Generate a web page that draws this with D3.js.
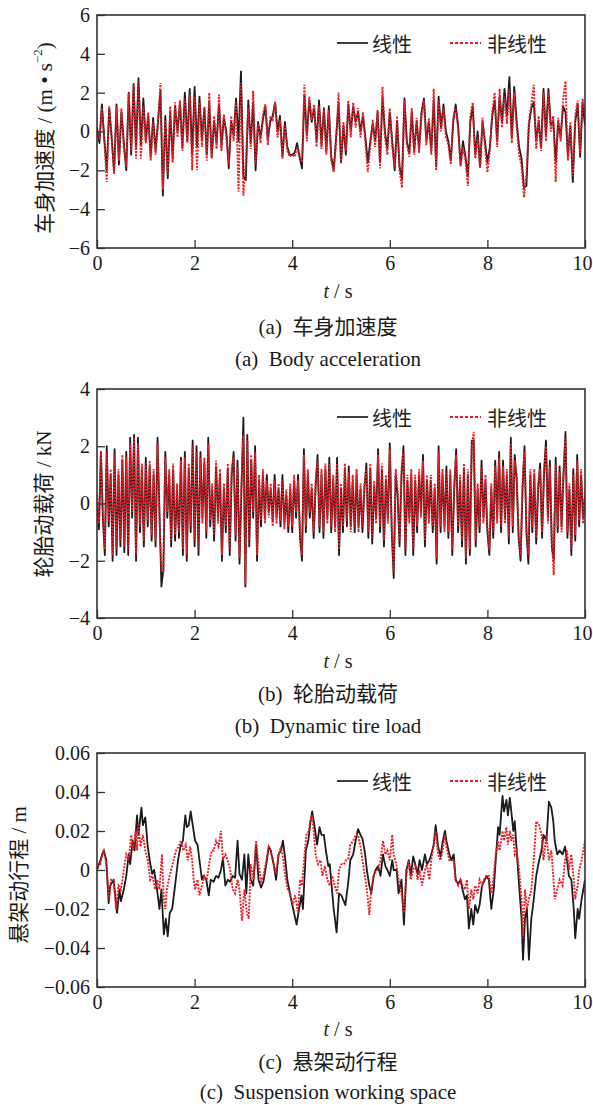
<!DOCTYPE html>
<html><head><meta charset="utf-8">
<script src="https://cdn.jsdelivr.net/npm/d3@7"></script>
<style>body{margin:0;background:#fff}</style></head>
<body><svg id="fig" width="593" height="1105"></svg>
<script>
// ---------- DATA ----------
const xTicks = [0, 2, 4, 6, 8, 10];
const seriesNames = ["线性", "非线性"];

// (a) body acceleration, m/s^2, sampled every 0.05 s from 0 to 10 s
const accLinear = [
 0.2,-0.6,1.4,-0.4,-2.0,1.2,-0.3,-2.1,1.4,-1.7,
 1.0,-0.6,-2.0,2.0,-1.2,2.4,-0.8,2.75,-0.7,1.7,
 -0.5,0.8,-1.3,0.7,-1.0,0.5,2.1,-3.3,0.8,-2.4,
 1.0,-1.4,1.3,0.0,1.5,-0.8,2.0,-0.5,2.2,-1.2,
 2.3,-0.8,1.8,-0.4,1.2,-1.2,1.5,-1.3,0.5,-0.6,
 1.4,-0.8,0.7,0.0,-1.9,0.5,-0.2,1.7,-0.5,3.1,
 -2.3,-2.5,1.6,-0.6,1.5,-2.0,0.5,-0.3,0.6,1.3,
 -0.4,0.5,0.8,1.5,0.0,0.8,-1.3,0.5,-0.8,-1.2,
 -1.2,-1.1,-0.6,-1.3,-1.9,1.9,-0.2,1.6,0.5,1.2,
 -0.5,1.6,-0.7,1.2,-1.0,1.3,-1.3,-2.0,-0.3,1.5,
 -1.6,0.3,-1.2,1.4,0.0,1.3,0.5,1.0,0.0,0.8,
 -0.3,-1.6,-0.5,0.4,-0.5,1.0,-1.6,1.8,0.0,-0.9,
 1.0,-0.5,-2.0,0.5,-1.8,-2.5,1.7,-0.5,-1.1,1.0,
 -1.0,0.5,-0.9,1.0,1.7,-0.5,0.5,-1.0,1.6,-1.8,
 1.8,0.2,1.4,0.0,-0.5,-1.5,0.5,1.4,0.3,-1.7,
 -0.5,-1.3,-2.3,0.5,1.3,-1.2,0.0,-1.8,0.5,-0.5,
 -1.6,-0.8,0.8,1.6,-0.5,1.8,0.5,2.2,0.8,2.8,
 -0.3,2.3,0.5,-0.8,-1.4,-2.9,-2.8,0.3,1.2,1.5,
 -0.5,0.5,-0.8,2.2,-0.2,2.2,0.3,0.5,-1.6,0.5,
 -0.3,1.3,1.0,-1.3,0.3,-2.6,0.5,1.4,-1.3,1.5,
 0.3];
const accNonlinear = [
 0.0,-0.4,1.2,-0.5,-2.6,1.3,-0.3,-2.2,1.3,-1.5,
 1.2,-0.8,-1.8,2.0,-1.0,2.5,-1.4,2.6,-1.4,1.3,
 -0.6,1.0,-1.5,0.5,-1.2,0.4,2.5,-3.0,0.6,-2.2,
 1.3,-1.6,1.5,-0.3,1.6,-1.0,1.7,-0.6,1.9,-2.0,
 1.8,-2.0,1.5,-0.8,1.3,-1.5,2.0,-1.4,0.8,-0.9,
 1.9,-1.0,0.9,-0.3,-1.7,0.8,-0.5,1.5,-3.1,2.5,
 -3.3,-1.5,1.2,-0.9,2.1,-1.7,0.4,-0.6,0.9,1.4,
 -0.7,0.8,0.6,1.5,-0.3,0.6,-1.4,0.3,-1.0,-1.3,
 -1.2,-1.3,-0.8,-1.2,-1.6,2.4,-0.5,1.8,0.6,1.4,
 -0.8,1.3,-0.9,1.1,-1.2,1.1,-1.5,-2.1,-0.6,2.0,
 -1.6,0.5,-1.0,1.6,-0.3,1.5,0.2,1.2,-0.3,1.0,
 -0.6,-2.1,-0.8,0.6,-0.8,1.1,-1.9,2.3,-0.3,-1.2,
 1.2,-0.8,-1.8,0.8,-2.0,-2.9,1.6,-0.7,-1.3,1.2,
 -1.2,0.7,-1.1,0.8,1.6,-0.7,0.7,-1.2,2.2,-2.0,
 1.6,0.0,1.2,-0.3,-0.7,-1.7,0.7,1.2,0.1,-1.8,
 -0.8,-1.5,-2.8,0.8,1.5,-1.4,-0.3,-1.9,0.7,-0.8,
 -2.1,-1.0,1.0,2.0,-0.8,2.2,0.2,1.8,0.4,2.2,
 -0.6,2.0,0.2,-1.2,-1.8,-3.4,-2.2,0.5,1.4,2.4,
 -0.9,0.8,-1.0,2.0,-0.5,2.0,0.0,0.8,-2.6,0.7,
 -0.5,1.6,2.6,-1.5,0.5,-2.3,0.8,1.6,-1.1,1.7,
 0.8];
const accTicks = [-6, -4, -2, 0, 2, 4, 6];

// (b) dynamic tire load, kN, sampled every 0.04 s from 0 to 10 s
const tireLinear = [
 0.0,-0.9,1.8,-0.5,-1.8,2.0,-0.8,1.0,-2.0,1.9,
 -1.8,1.0,-1.5,1.5,-1.7,1.8,-1.8,2.3,-0.5,2.4,
 -2.0,2.3,-1.0,1.2,-1.5,1.6,-0.8,1.3,-1.3,1.0,
 -1.5,2.3,-0.3,-2.9,-2.3,1.8,-0.5,1.0,-1.5,1.2,
 -1.3,0.5,-1.2,1.6,-1.8,1.8,-2.0,1.2,-1.0,2.2,
 -1.5,2.0,-1.8,1.8,-0.5,1.4,-1.2,2.3,-0.8,0.5,
 -1.3,1.3,-0.5,1.0,-2.0,0.5,-1.0,1.2,-1.8,1.0,
 1.8,-1.3,1.5,-2.1,0.5,3.0,-2.9,2.4,-1.5,1.5,
 -0.5,2.0,-2.0,0.8,-0.8,1.0,-0.5,1.0,-0.3,0.5,
 -0.6,1.0,-0.5,0.5,-0.8,1.0,-0.7,0.3,-1.0,0.5,
 -1.0,0.8,-0.5,1.0,-1.2,-2.0,1.9,-1.0,1.0,-0.5,
 0.5,-1.2,0.6,1.7,-1.0,1.0,-1.2,1.2,-0.5,1.6,
 -1.0,0.8,-0.8,1.6,-1.8,0.5,-1.0,1.2,-0.8,1.3,
 -0.8,0.8,-1.0,1.0,-0.8,0.5,-1.0,0.5,1.4,-1.2,
 1.2,-1.4,0.6,-0.5,1.9,-1.0,1.2,-1.5,0.8,-0.5,
 2.1,-1.0,-2.6,1.0,0.3,-1.5,1.0,2.0,-1.8,0.8,
 -0.5,1.0,-1.8,0.8,-1.0,1.0,-0.3,1.7,-1.5,0.8,
 -0.5,0.8,-1.0,0.5,-2.1,2.0,-1.0,1.0,-0.8,1.3,
 -1.2,1.0,-1.8,0.5,1.9,-1.0,0.8,-1.5,1.2,-2.1,
 1.0,-1.8,2.2,2.2,-1.5,0.5,-1.0,1.5,-0.5,0.8,
 -1.0,-1.8,0.5,-1.2,1.5,-0.5,1.8,-1.0,1.5,-0.5,
 1.0,-1.4,2.3,-1.0,1.7,0.8,-1.2,-2.0,0.5,2.0,
 -1.0,-2.1,1.0,-1.0,1.0,-1.4,0.5,1.4,-1.2,1.0,
 2.2,-0.5,1.5,-1.5,-2.0,1.6,-1.0,1.3,-0.8,1.0,
 2.5,-1.2,0.5,-1.8,1.2,-1.3,1.7,-0.8,1.0,-0.5,
 0.3];
const tireNonlinear = [
 0.3,-0.7,1.8,-0.3,-1.6,1.8,-0.6,1.2,-1.8,1.7,
 -1.6,1.2,-1.3,1.7,-1.5,1.6,-1.6,2.1,-0.3,2.3,
 -1.8,2.1,-0.8,1.4,-1.3,1.4,-0.6,1.5,-1.1,1.2,
 -1.3,2.1,-0.5,-2.3,-2.4,1.6,-0.3,1.2,-1.3,1.4,
 -1.1,0.7,-1.0,1.5,-1.6,1.6,-1.8,1.4,-0.8,2.0,
 -1.3,1.8,-1.6,1.6,-0.7,1.6,-1.0,2.1,-0.6,0.7,
 -1.1,1.5,-0.7,1.2,-1.8,0.7,-0.8,1.4,-1.6,1.2,
 1.6,-1.1,1.3,-1.9,0.7,2.4,-2.8,2.2,-1.3,1.7,
 -0.3,1.8,-1.8,1.0,-0.6,1.2,-0.7,0.8,-0.5,0.7,
 -0.8,0.8,-0.7,0.7,-0.6,0.8,-0.9,0.5,-0.8,0.7,
 -0.8,1.0,-0.3,0.8,-1.0,-1.8,1.7,-0.8,1.2,-0.3,
 0.7,-1.0,0.8,1.5,-0.8,1.2,-1.0,1.4,-0.7,1.4,
 -0.8,1.0,-1.0,1.4,-1.6,0.7,-0.8,1.4,-0.6,1.1,
 -1.0,1.0,-0.8,1.2,-1.0,0.7,-0.8,0.7,1.2,-1.0,
 1.4,-1.2,0.8,-0.7,1.7,-0.8,1.4,-1.3,1.0,-0.7,
 1.9,-0.8,-2.4,1.2,0.5,-1.3,1.2,1.8,-1.6,1.0,
 -0.7,1.2,-1.6,1.0,-0.8,1.2,-0.5,1.5,-1.3,1.0,
 -0.7,1.0,-0.8,0.7,-1.9,1.8,-0.8,1.2,-1.0,1.1,
 -1.0,1.2,-1.6,0.7,1.7,-0.8,1.0,-1.3,1.4,-1.9,
 1.2,-1.6,2.0,2.5,-1.3,0.7,-0.8,1.3,-0.7,1.0,
 -0.8,-1.6,0.7,-1.0,1.3,-0.7,1.6,-0.8,1.3,-0.7,
 1.2,-1.2,2.1,-0.8,1.5,1.0,-1.0,-1.8,0.7,1.8,
 -0.8,-1.8,1.2,-0.8,1.2,-1.2,0.7,1.2,-1.0,1.2,
 2.0,-0.7,1.3,-1.3,-2.5,1.4,-0.8,1.1,-1.0,1.2,
 2.3,-1.0,0.7,-1.6,1.0,-1.1,1.5,-0.6,1.2,-0.7,
 0.5];
const tireTicks = [-4, -2, 0, 2, 4];

// (c) suspension working space, [time s, travel m]
const suspLinear = [[0,0],[0.07,0.005],[0.14,0.010],[0.19,0.005],[0.24,-0.017],[0.27,-0.008],[0.34,-0.005],[0.41,-0.022],[0.46,-0.010],[0.49,-0.016],[0.55,-0.010],[0.60,-0.003],[0.65,0.008],[0.68,0.003],[0.73,0.015],[0.77,0.010],[0.82,0.028],[0.85,0.018],[0.91,0.032],[0.94,0.023],[0.99,0.027],[1.04,0.012],[1.08,0.005],[1.13,-0.002],[1.17,0],[1.23,-0.010],[1.28,-0.020],[1.32,-0.010],[1.37,-0.033],[1.41,-0.025],[1.45,-0.034],[1.49,-0.022],[1.54,-0.020],[1.60,-0.008],[1.66,0.005],[1.71,0.012],[1.76,0.015],[1.81,0.028],[1.84,0.022],[1.88,0.023],[1.92,0.030],[1.98,0.020],[2.01,0.015],[2.06,0.013],[2.10,0.005],[2.15,-0.005],[2.18,-0.003],[2.24,-0.005],[2.29,-0.013],[2.33,-0.005],[2.39,-0.006],[2.44,-0.003],[2.49,-0.004],[2.54,0],[2.58,0.006],[2.63,-0.008],[2.68,-0.005],[2.73,-0.006],[2.78,-0.003],[2.83,-0.004],[2.88,0.015],[2.92,-0.002],[2.97,-0.005],[3.02,0.008],[3.06,-0.012],[3.10,0.008],[3.15,-0.005],[3.20,-0.008],[3.26,0.013],[3.31,-0.005],[3.36,-0.009],[3.41,-0.006],[3.47,0.003],[3.52,0.012],[3.56,0.010],[3.62,0.003],[3.67,-0.005],[3.72,0.008],[3.77,0.010],[3.81,0.015],[3.86,0.005],[3.90,-0.005],[3.96,-0.013],[4.02,-0.020],[4.09,-0.028],[4.14,-0.020],[4.19,-0.013],[4.22,-0.020],[4.28,0.010],[4.33,0.015],[4.37,0.024],[4.41,0.030],[4.46,0.022],[4.51,0.013],[4.56,0.022],[4.60,0.018],[4.65,0.018],[4.69,0.010],[4.74,0.002],[4.77,0.003],[4.80,-0.006],[4.85,-0.020],[4.91,-0.032],[4.96,-0.012],[5.01,-0.013],[5.04,-0.015],[5.09,-0.018],[5.15,-0.006],[5.19,0.005],[5.25,0.008],[5.30,0.015],[5.35,0.021],[5.40,0.018],[5.44,0.016],[5.49,0.009],[5.53,0],[5.58,-0.008],[5.62,-0.012],[5.67,-0.003],[5.71,0],[5.76,0.002],[5.81,-0.003],[5.86,0.008],[5.91,0.002],[5.95,0],[6.00,-0.003],[6.05,0.005],[6.08,0],[6.14,0],[6.18,-0.012],[6.24,-0.005],[6.29,-0.028],[6.34,0],[6.39,0.005],[6.43,-0.003],[6.48,0.007],[6.52,0.003],[6.57,-0.002],[6.61,0.005],[6.66,0],[6.72,0.008],[6.76,0.003],[6.81,0.005],[6.85,0.008],[6.90,0.013],[6.94,0.023],[6.99,0.012],[7.04,0.007],[7.08,0.014],[7.13,0.020],[7.16,0.015],[7.22,0.008],[7.26,0.005],[7.31,0.008],[7.35,-0.005],[7.40,-0.007],[7.45,-0.005],[7.49,-0.010],[7.54,-0.015],[7.58,-0.013],[7.62,-0.030],[7.67,-0.020],[7.71,-0.028],[7.75,-0.018],[7.80,-0.022],[7.84,-0.018],[7.89,-0.008],[7.93,-0.006],[7.98,-0.003],[8.03,-0.005],[8.08,-0.020],[8.13,-0.010],[8.17,0.005],[8.22,0.022],[8.25,0.018],[8.31,0.038],[8.34,0.030],[8.39,0.036],[8.42,0.028],[8.46,0.037],[8.49,0.030],[8.53,0.020],[8.56,0.025],[8.60,0.010],[8.65,-0.008],[8.70,-0.025],[8.73,-0.046],[8.77,-0.025],[8.81,-0.020],[8.85,-0.046],[8.90,-0.025],[8.95,-0.015],[9.00,-0.003],[9.06,0.005],[9.11,0.010],[9.15,0.018],[9.21,0.015],[9.26,0.035],[9.31,0.032],[9.35,0.025],[9.38,0.015],[9.43,0.008],[9.48,0.010],[9.54,0.008],[9.59,0.012],[9.63,0.005],[9.67,-0.003],[9.72,-0.005],[9.77,-0.020],[9.80,-0.035],[9.85,-0.020],[9.88,-0.025],[9.93,-0.015],[10,-0.005]];
const suspNonlinear = [[0,0.002],[0.07,0.003],[0.10,0.008],[0.14,0.010],[0.19,0.003],[0.24,-0.015],[0.29,-0.005],[0.34,-0.005],[0.39,-0.020],[0.44,-0.008],[0.49,-0.010],[0.55,0],[0.60,0.008],[0.65,0.005],[0.70,0.018],[0.74,0.010],[0.79,0.020],[0.82,0.010],[0.85,0.024],[0.89,0.012],[0.94,0.018],[0.99,0.010],[1.04,0.005],[1.09,-0.005],[1.14,-0.003],[1.19,-0.010],[1.24,-0.005],[1.28,-0.010],[1.33,0.008],[1.37,-0.015],[1.40,-0.020],[1.43,-0.010],[1.47,-0.005],[1.52,0],[1.57,0.005],[1.62,0.010],[1.67,0.012],[1.72,0.015],[1.77,0.010],[1.82,0.013],[1.86,0.005],[1.91,0.012],[1.95,0.005],[1.98,-0.005],[2.01,-0.010],[2.06,-0.005],[2.10,-0.013],[2.15,-0.008],[2.20,-0.003],[2.25,-0.005],[2.31,0.005],[2.35,0.010],[2.39,0.010],[2.44,0.015],[2.49,0.012],[2.54,0.020],[2.58,0.005],[2.63,0.008],[2.68,0.005],[2.73,0],[2.78,-0.010],[2.83,-0.012],[2.88,-0.005],[2.92,-0.010],[2.97,-0.026],[3.02,-0.010],[3.07,-0.022],[3.11,-0.025],[3.15,0.003],[3.21,-0.005],[3.26,0.015],[3.31,0.003],[3.36,-0.006],[3.41,-0.003],[3.47,0.005],[3.52,0.012],[3.56,0.010],[3.62,0.003],[3.67,-0.002],[3.72,0.008],[3.77,0.012],[3.82,0.005],[3.87,-0.005],[3.91,-0.010],[3.96,-0.012],[4.01,-0.018],[4.06,-0.013],[4.12,-0.022],[4.16,-0.005],[4.20,-0.008],[4.26,0.010],[4.29,0.018],[4.34,0.020],[4.37,0.025],[4.41,0.028],[4.44,0.020],[4.48,0.008],[4.53,0.003],[4.58,0.005],[4.62,-0.003],[4.67,0.002],[4.72,-0.005],[4.77,-0.008],[4.82,-0.003],[4.87,-0.008],[4.92,-0.012],[4.96,0],[5.01,0.003],[5.06,0.003],[5.10,0.005],[5.15,0.006],[5.19,0.013],[5.25,0.015],[5.30,0.018],[5.35,0.018],[5.40,0.012],[5.44,0.005],[5.49,-0.003],[5.53,-0.010],[5.58,-0.023],[5.62,-0.010],[5.67,-0.003],[5.71,0],[5.76,0],[5.81,0.005],[5.86,0.015],[5.91,0.008],[5.95,0.010],[6.00,0.005],[6.05,0.018],[6.08,0.008],[6.14,0.002],[6.18,-0.005],[6.24,-0.012],[6.29,-0.022],[6.34,-0.003],[6.39,0.005],[6.43,-0.005],[6.48,0],[6.52,0.003],[6.57,-0.005],[6.61,0],[6.66,-0.008],[6.72,0],[6.76,0.003],[6.81,-0.005],[6.85,0.005],[6.90,0.013],[6.94,0.020],[6.99,0.008],[7.04,0.005],[7.08,0.010],[7.13,0.018],[7.16,0.012],[7.22,0.005],[7.26,0.005],[7.31,0.005],[7.35,-0.005],[7.40,-0.008],[7.45,-0.005],[7.49,-0.008],[7.54,-0.010],[7.58,-0.005],[7.62,-0.020],[7.67,-0.010],[7.71,-0.015],[7.75,-0.008],[7.80,-0.012],[7.84,-0.005],[7.89,-0.008],[7.93,-0.005],[7.98,-0.003],[8.03,-0.003],[8.08,-0.012],[8.13,-0.003],[8.17,0.008],[8.22,0.015],[8.25,0.010],[8.31,0.020],[8.34,0.015],[8.39,0.022],[8.42,0.013],[8.46,0.020],[8.49,0.015],[8.53,0.018],[8.56,0.008],[8.60,0.010],[8.65,0],[8.70,-0.015],[8.73,-0.035],[8.77,-0.010],[8.81,-0.020],[8.85,-0.015],[8.90,-0.010],[8.95,0.005],[9.00,0.025],[9.06,0.023],[9.11,0.018],[9.15,0.005],[9.21,0.018],[9.26,0.005],[9.31,0.010],[9.35,-0.003],[9.38,-0.015],[9.43,-0.010],[9.48,-0.005],[9.54,-0.008],[9.59,0.005],[9.63,0.010],[9.67,0],[9.72,0.008],[9.77,-0.005],[9.80,-0.015],[9.85,-0.008],[9.88,0],[9.93,0.005],[10,0.015]];
const suspTicks = [-0.06, -0.04, -0.02, 0, 0.02, 0.04, 0.06];

// ---------- DRAW ----------
const svg = d3.select("#fig");
const SERIF = "'Liberation Serif','Times New Roman','Noto Sans CJK SC',serif";
const CJK = "'Noto Sans CJK SC','Liberation Serif',sans-serif";
const BLACK = "#1b1b1b", RED = "#ec1c24", AXIS = "#333";
const xLeft = 97, xRight = 585;

function uniform(vals) { return vals.map((v, i) => [i * 10 / (vals.length - 1), v]); }

const panels = [
  { top: 15, bottom: 248, domain: [-6, 6], ticks: accTicks, fmt: d => d3.format("d")(d),
    lin: uniform(accLinear), non: uniform(accNonlinear),
    ylabel: ["车身加速度 / (m • s", "−2", ")"], ylx: 45, yly: 138,
    texty: [291, 327, 359],
    cap1: "(a)  车身加速度", cap2: "(a)  Body acceleration" },
  { top: 389, bottom: 618, domain: [-4, 4], ticks: tireTicks, fmt: d => d3.format("d")(d),
    lin: uniform(tireLinear), non: uniform(tireNonlinear),
    ylabel: ["轮胎动载荷 / kN"], ylx: 44, yly: 504,
    texty: [661, 694, 726],
    cap1: "(b)  轮胎动载荷", cap2: "(b)  Dynamic tire load" },
  { top: 753, bottom: 987, domain: [-0.06, 0.06], ticks: suspTicks, fmt: d => d === 0 ? "0" : d3.format(".2f")(d),
    lin: suspLinear, non: suspNonlinear,
    ylabel: ["悬架动行程 / m"], ylx: 19, yly: 875,
    texty: [1029, 1062, 1092],
    cap1: "(c)  悬架动行程", cap2: "(c)  Suspension working space" }
];

panels.forEach((p, pi) => {
  const x = d3.scaleLinear().domain([0, 10]).range([xLeft, xRight]);
  const y = d3.scaleLinear().domain(p.domain).range([p.bottom, p.top]);
  const g = svg.append("g");
  const clipId = "clip" + pi;
  g.append("clipPath").attr("id", clipId).append("rect")
    .attr("x", xLeft).attr("y", p.top).attr("width", xRight - xLeft).attr("height", p.bottom - p.top);

  const line = d3.line().x(d => x(d[0])).y(d => y(d[1]));
  const lg = g.append("g").attr("clip-path", `url(#${clipId})`);
  lg.append("path").datum(p.lin).attr("d", line).attr("fill", "none")
    .attr("stroke", BLACK).attr("stroke-width", 1.8).attr("stroke-linejoin", "round");
  lg.append("path").datum(p.non).attr("d", line).attr("fill", "none")
    .attr("stroke", RED).attr("stroke-width", 1.9).attr("stroke-dasharray", "2,1.3");

  // axes
  const yAxis = d3.axisLeft(y).tickValues(p.ticks).tickFormat(d => p.fmt(d).replace("-", "−"))
    .tickSizeInner(-8).tickSizeOuter(0).tickPadding(7);
  const ya = g.append("g").attr("transform", `translate(${xLeft},0)`).call(yAxis);
  const xAxis = d3.axisBottom(x).tickValues(xTicks).tickFormat(d3.format("d"))
    .tickSizeInner(-8).tickSizeOuter(0).tickPadding(8);
  const xa = g.append("g").attr("transform", `translate(0,${p.bottom})`).call(xAxis);
  [ya, xa].forEach(a => {
    a.select(".domain").remove();
    a.selectAll("line").attr("stroke", AXIS).attr("stroke-width", 1.3);
    a.selectAll("text").attr("fill", "#1a1a1a").style("font-family", SERIF).style("font-size", "20px");
  });
  xa.selectAll(".tick").filter(d => d === 10).select("text").attr("dx", -3);
  g.append("rect").attr("x", xLeft).attr("y", p.top).attr("width", xRight - xLeft).attr("height", p.bottom - p.top)
    .attr("fill", "none").attr("stroke", AXIS).attr("stroke-width", 1.6);

  // y label
  const yl = g.append("text")
    .attr("transform", `translate(${p.ylx},${p.yly}) rotate(-90)`)
    .attr("text-anchor", "middle").attr("dominant-baseline", "central")
    .style("font-family", SERIF).style("font-size", "21px").attr("fill", "#1a1a1a");
  yl.append("tspan").text(p.ylabel[0]);
  if (p.ylabel.length > 1) {
    yl.append("tspan").attr("dy", -8).style("font-size", "13px").text(p.ylabel[1]);
    yl.append("tspan").attr("dy", 8).text(p.ylabel[2]);
  }

  // x label
  const xl = g.append("text").attr("x", 338).attr("y", p.texty[0])
    .attr("text-anchor", "middle").attr("dominant-baseline", "central")
    .style("font-family", SERIF).style("font-size", "20px").attr("fill", "#1a1a1a");
  xl.append("tspan").style("font-style", "italic").text("t");
  xl.append("tspan").text(" / s");

  // captions
  [p.cap1, p.cap2].forEach((c, ci) => {
    g.append("text").attr("x", 328).attr("y", p.texty[ci + 1])
      .attr("text-anchor", "middle").attr("dominant-baseline", "central")
      .style("white-space", "pre")
      .style("font-family", SERIF).style("font-size", "21px").attr("fill", "#1a1a1a").text(c);
  });

  // legend
  const ly = p.top + 28;
  const leg = g.append("g");
  leg.append("line").attr("x1", 337).attr("x2", 368).attr("y1", ly).attr("y2", ly)
    .attr("stroke", BLACK).attr("stroke-width", 1.7);
  leg.append("text").attr("x", 372).attr("y", ly).attr("dominant-baseline", "central")
    .style("font-family", CJK).style("font-size", "20px").attr("fill", "#222").text(seriesNames[0]);
  leg.append("line").attr("x1", 450).attr("x2", 481).attr("y1", ly).attr("y2", ly)
    .attr("stroke", RED).attr("stroke-width", 1.9).attr("stroke-dasharray", "3,2");
  leg.append("text").attr("x", 487).attr("y", ly).attr("dominant-baseline", "central")
    .style("font-family", CJK).style("font-size", "20px").attr("fill", "#222").text(seriesNames[1]);
});
</script>
</body></html>
